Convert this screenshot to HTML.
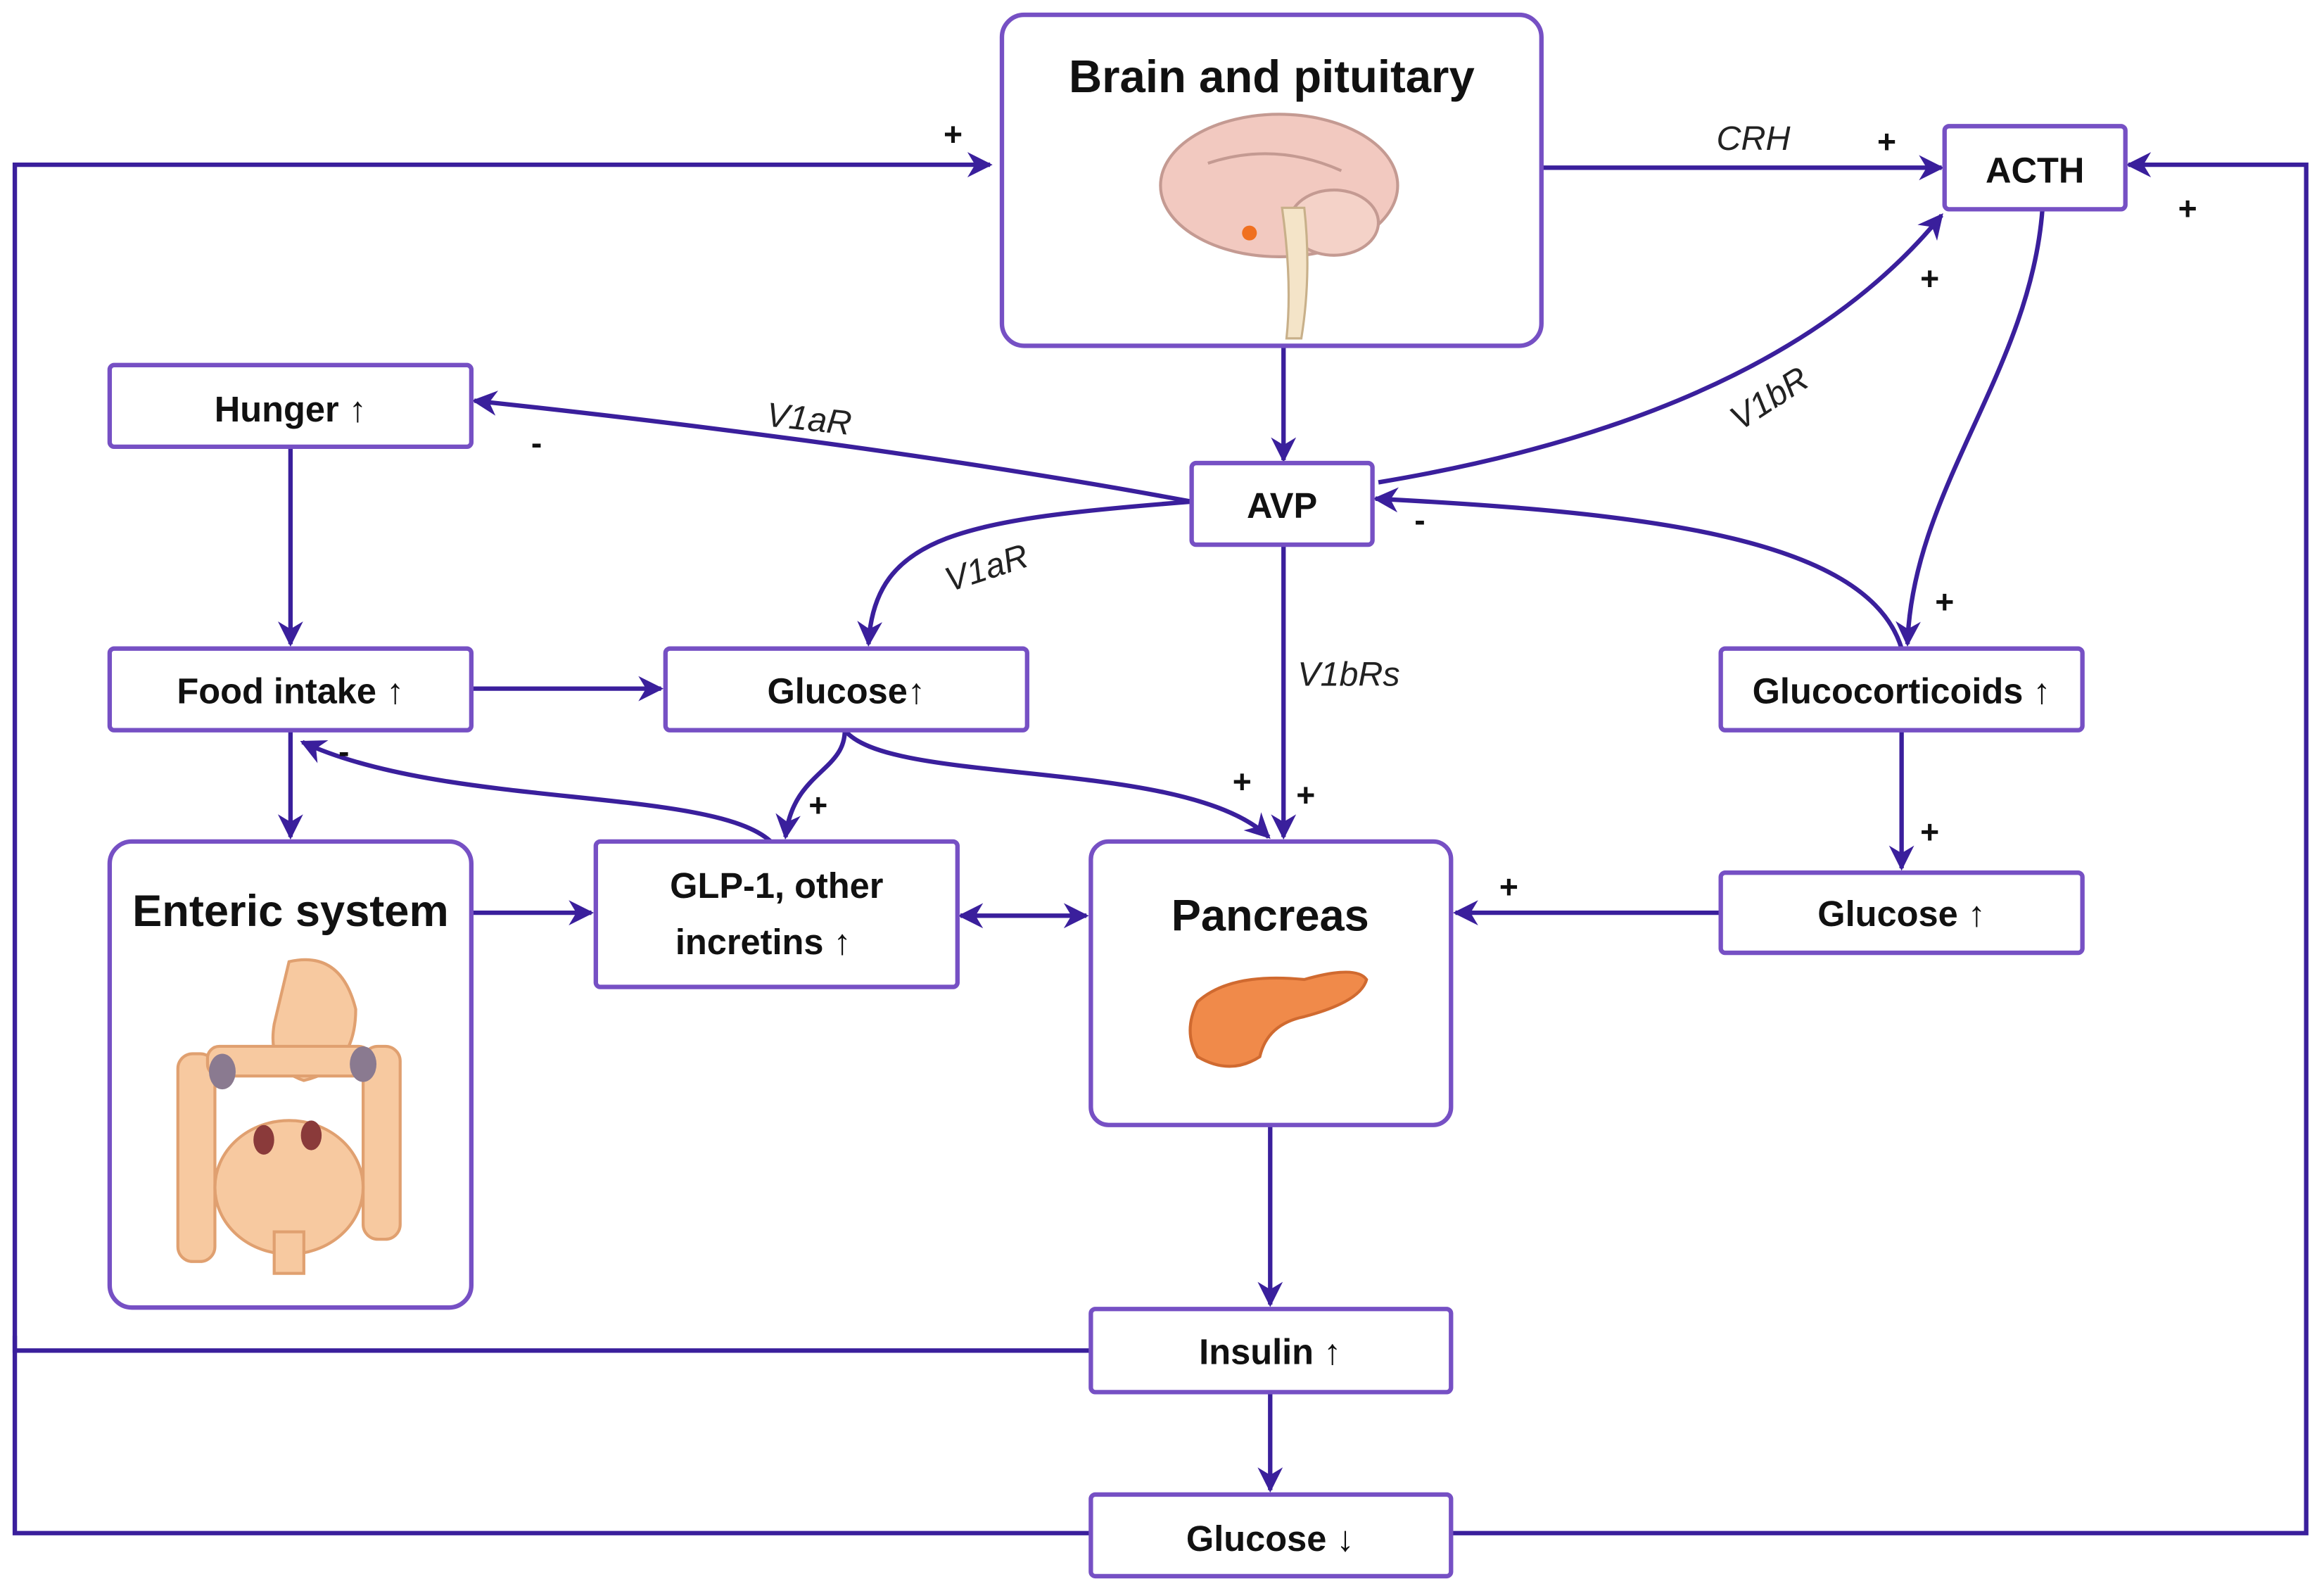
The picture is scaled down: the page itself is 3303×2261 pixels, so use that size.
<!DOCTYPE html>
<html><head><meta charset="utf-8"><style>
html,body{margin:0;padding:0;background:#fff;}
svg{display:block;}
text{font-family:"Liberation Sans",sans-serif;}
</style></head><body>
<svg width="3303" height="2261" viewBox="0 0 1568 1072" preserveAspectRatio="none" xmlns="http://www.w3.org/2000/svg">
<defs>
<marker id="a" viewBox="0 0 10 10" refX="9" refY="5" markerWidth="20" markerHeight="17" markerUnits="userSpaceOnUse" orient="auto-start-reverse">
<path d="M0,0 L10,5 L0,10 L3,5 z" fill="#3a1f9c"/></marker>
</defs>
<rect width="1568" height="1072" fill="#fff"/>
<g fill="none" stroke="#3a1f9c" stroke-width="3">
<polyline points="736,910 10,910 10,111 668,111" marker-end="url(#a)"/>
<polyline points="736,1033 10,1033 10,900"/>
<polyline points="979,1033 1556,1033 1556,111 1436,111" marker-end="url(#a)"/>
<line x1="1040" y1="113" x2="1310" y2="113" marker-end="url(#a)"/>
<line x1="866" y1="233" x2="866" y2="310" marker-end="url(#a)"/>
<path d="M930,325 Q1200,280 1310,145" marker-end="url(#a)"/>
<path d="M804,338 Q600,300 320,270" marker-end="url(#a)"/>
<path d="M804,338 C650,350 590,360 586,434" marker-end="url(#a)"/>
<line x1="866" y1="367" x2="866" y2="564" marker-end="url(#a)"/>
<path d="M1378,141 C1370,250 1290,330 1287,434" marker-end="url(#a)"/>
<path d="M1283,437 C1260,360 1100,345 928,336" marker-end="url(#a)"/>
<line x1="196" y1="301" x2="196" y2="434" marker-end="url(#a)"/>
<line x1="318" y1="464" x2="446" y2="464" marker-end="url(#a)"/>
<line x1="196" y1="492" x2="196" y2="564" marker-end="url(#a)"/>
<path d="M570,492 C570,520 535,520 530,564" marker-end="url(#a)"/>
<path d="M570,492 C600,530 800,510 856,564" marker-end="url(#a)"/>
<path d="M520,567 C480,530 300,545 204,500" marker-end="url(#a)"/>
<line x1="318" y1="615" x2="399" y2="615" marker-end="url(#a)"/>
<line x1="648" y1="617" x2="733" y2="617" marker-start="url(#a)" marker-end="url(#a)"/>
<line x1="1161" y1="615" x2="982" y2="615" marker-end="url(#a)"/>
<line x1="1283" y1="492" x2="1283" y2="585" marker-end="url(#a)"/>
<line x1="857" y1="758" x2="857" y2="879" marker-end="url(#a)"/>
<line x1="857" y1="938" x2="857" y2="1004" marker-end="url(#a)"/>
</g>
<g fill="#fff" stroke="#7650c4" stroke-width="3">
<rect x="676" y="10" width="364" height="223" rx="15"/>
<rect x="1312" y="85" width="122" height="56" rx="3"/>
<rect x="74" y="246" width="244" height="55" rx="3"/>
<rect x="804" y="312" width="122" height="55" rx="3"/>
<rect x="74" y="437" width="244" height="55" rx="3"/>
<rect x="449" y="437" width="244" height="55" rx="3"/>
<rect x="1161" y="437" width="244" height="55" rx="3"/>
<rect x="74" y="567" width="244" height="314" rx="15"/>
<rect x="402" y="567" width="244" height="98" rx="3"/>
<rect x="736" y="567" width="243" height="191" rx="12"/>
<rect x="1161" y="588" width="244" height="54" rx="3"/>
<rect x="736" y="882" width="243" height="56" rx="3"/>
<rect x="736" y="1007" width="243" height="55" rx="3"/>
</g>
<g>
<ellipse cx="863" cy="125" rx="80" ry="48" fill="#f2c9c0" stroke="#c49a92" stroke-width="2"/>
<ellipse cx="900" cy="150" rx="30" ry="22" fill="#f4d2c8" stroke="#c49a92" stroke-width="2"/>
<path d="M865,140 Q872,190 868,228 L878,228 Q885,185 880,140 z" fill="#f4e4c8" stroke="#c8b08a" stroke-width="1.5"/>
<circle cx="843" cy="157" r="5" fill="#f07020"/>
<path d="M815,110 Q860,95 905,115" fill="none" stroke="#c49a92" stroke-width="2"/>
</g>
<path d="M808,675 Q830,655 880,660 Q915,650 922,660 Q918,675 880,685 Q855,690 850,712 Q830,725 808,712 Q798,695 808,675 z" fill="#f08a4a" stroke="#d06a30" stroke-width="2"/>
<g fill="#f7c9a0" stroke="#e0a070" stroke-width="2">
<path d="M195,648 Q230,640 240,680 Q240,720 205,728 Q180,720 185,690 z"/>
<rect x="120" y="710" width="25" height="140" rx="10"/>
<rect x="245" y="705" width="25" height="130" rx="10"/>
<rect x="140" y="705" width="110" height="20" rx="8"/>
<ellipse cx="195" cy="800" rx="50" ry="45"/>
<rect x="185" y="830" width="20" height="28"/>
</g>
<ellipse cx="150" cy="722" rx="9" ry="12" fill="#8a7a90"/>
<ellipse cx="245" cy="717" rx="9" ry="12" fill="#8a7a90"/>
<ellipse cx="178" cy="768" rx="7" ry="10" fill="#8a3a3a"/>
<ellipse cx="210" cy="765" rx="7" ry="10" fill="#8a3a3a"/>
<g font-weight="bold" fill="#111" text-anchor="middle">
<text x="858" y="62" font-size="31">Brain and pituitary</text>
<text x="1373" y="123" font-size="24">ACTH</text>
<text x="196" y="284" font-size="24">Hunger  ↑</text>
<text x="865" y="349" font-size="24">AVP</text>
<text x="196" y="474" font-size="24">Food intake ↑</text>
<text x="571" y="474" font-size="24">Glucose↑</text>
<text x="1283" y="474" font-size="24">Glucocorticoids ↑</text>
<text x="196" y="624" font-size="30">Enteric system</text>
<text x="524" y="605" font-size="24">GLP-1, other</text>
<text x="515" y="643" font-size="24">incretins ↑</text>
<text x="857" y="627" font-size="30">Pancreas</text>
<text x="1283" y="624" font-size="24">Glucose ↑</text>
<text x="857" y="919" font-size="24">Insulin ↑</text>
<text x="857" y="1045" font-size="24">Glucose ↓</text>
<g font-size="22">
<text x="643" y="98">+</text><text x="1273" y="103">+</text><text x="1476" y="148">+</text>
<text x="1302" y="195">+</text><text x="362" y="306">-</text><text x="958" y="358">-</text>
<text x="1312" y="413">+</text><text x="232" y="514">-</text><text x="552" y="550">+</text>
<text x="838" y="534">+</text><text x="881" y="543">+</text><text x="1302" y="568">+</text>
<text x="1018" y="605">+</text>
</g>
</g>
<g font-style="italic" fill="#222" font-size="23" text-anchor="middle">
<text x="1183" y="101">CRH</text>
<text x="545" y="290" transform="rotate(6 545 290)">V1aR</text>
<text x="668" y="390" transform="rotate(-18 668 390)">V1aR</text>
<text x="910" y="462">V1bRs</text>
<text x="1198" y="275" transform="rotate(-33 1198 275)">V1bR</text>
</g>
</svg>
</body></html>
